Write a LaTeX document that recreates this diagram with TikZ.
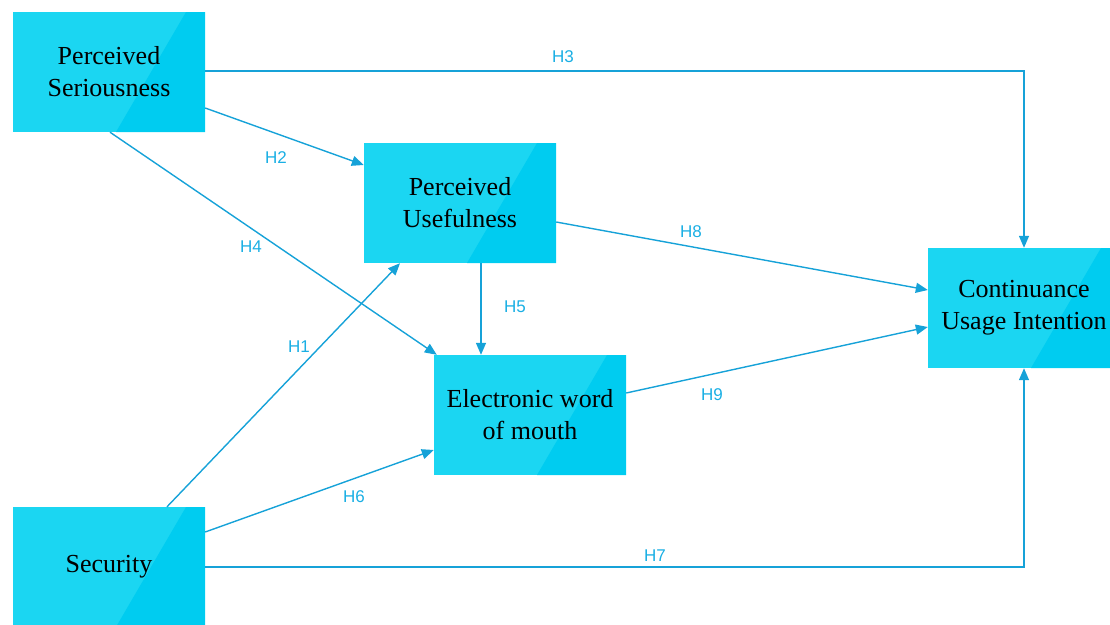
\documentclass[tikz,border=0pt]{standalone}
\usepackage{fontspec}
\setmainfont{Liberation Serif}
\setsansfont{Liberation Sans}
\usepackage{tikz}
\usetikzlibrary{arrows.meta}

\definecolor{boxlight}{HTML}{1BD6F2}
\definecolor{boxdark}{HTML}{00CCF0}
\definecolor{linecol}{HTML}{16A2D8}
\definecolor{hcol}{HTML}{1AAFE4}

\begin{document}
\begin{tikzpicture}[x=1pt,y=-1pt,
    box/.style={minimum width=192pt,minimum height=120pt,inner sep=0pt,align=center,
      font=\fontsize{26}{32}\selectfont,fill=boxlight,
      path picture={\fill[boxdark] ([xshift=173pt]path picture bounding box.north west)
        -- (path picture bounding box.north east) -- (path picture bounding box.south east)
        -- ([xshift=103pt]path picture bounding box.south west) -- cycle;}},
    arr/.style={draw=linecol,line width=1.4pt,-{Triangle[length=12pt,width=10pt]}},
    lbl/.style={font=\sffamily\fontsize{17}{17}\selectfont,text=hcol,inner sep=0pt}]
  \useasboundingbox (0,0) rectangle (1110,624);
  \clip (0,0) rectangle (1110,624);

  % constructs
  \node[box] (ps) at (109,72) {Perceived\\Seriousness};
  \node[box] (pu) at (460,203) {Perceived\\Usefulness};
  \node[box] (ewom) at (530,415) {Electronic word\\of mouth};
  \node[box] (cui) at (1024,308) {Continuance\\Usage Intention};
  \node[box] (sec) at (109,567) {Security};

  % hypotheses
  \draw[arr] ([yshift=1pt]ps.east) -| (cui.north);
  \draw[arr] ([yshift=-36pt]ps.east) -- ([yshift=38pt]pu.west);
  \draw[arr] ([xshift=1pt]ps.south) -- ([xshift=3pt]ewom.north west);
  \draw[arr] ([yshift=-19pt]pu.east) -- ([yshift=18pt]cui.west);
  \draw[arr] ([xshift=21pt]pu.south) -- ([xshift=-49pt]ewom.north);
  \draw[arr] ([xshift=58pt]sec.north) -- ([xshift=-60pt]pu.south);
  \draw[arr] ([yshift=22pt]ewom.east) -- ([yshift=-19pt]cui.west);
  \draw[arr] ([yshift=35pt]sec.east) -- ([yshift=-35pt]ewom.west);
  \draw[arr] (sec.east) -| (cui.south);

  \node[lbl] (h1) at (299,347) {H1};
  \node[lbl] (h2) at (276,158) {H2};
  \node[lbl] (h3) at (563,57) {H3};
  \node[lbl] (h4) at (251,247) {H4};
  \node[lbl] (h5) at (515,307) {H5};
  \node[lbl] (h6) at (354,497) {H6};
  \node[lbl] (h7) at (655,556) {H7};
  \node[lbl] (h8) at (691,232) {H8};
  \node[lbl] (h9) at (712,395) {H9};
\end{tikzpicture}
\end{document}
